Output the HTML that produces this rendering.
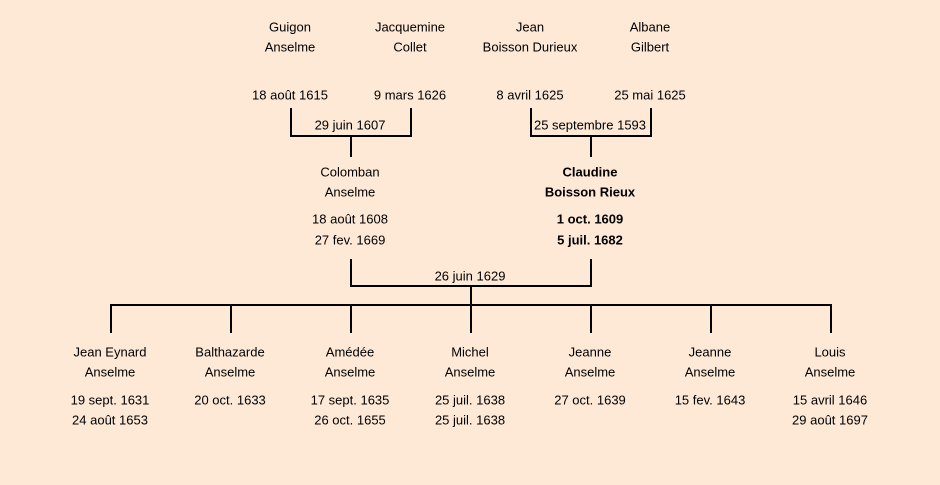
<!DOCTYPE html>
<html><head><meta charset="utf-8"><style>
body{margin:0;background:#fde9d6}
svg{display:block}
text{font-family:"Liberation Sans",sans-serif;font-size:13px;fill:#000;text-anchor:middle;dominant-baseline:middle}
.b{font-weight:bold}
</style></head><body>
<svg width="940" height="485" xmlns="http://www.w3.org/2000/svg">
<rect width="940" height="485" fill="#fde9d6"/>
<g stroke="#000" stroke-width="2" fill="none">
<polyline points="291,108 291,136 411,136 411,108"/>
<line x1="351" y1="136" x2="351" y2="157"/>
<polyline points="531,108 531,136 651,136 651,108"/>
<line x1="591" y1="136" x2="591" y2="157"/>
<polyline points="351,259 351,286 591,286 591,259"/>
<line x1="471" y1="286" x2="471" y2="305"/>
<line x1="110" y1="305" x2="832" y2="305"/>
<line x1="111" y1="305" x2="111" y2="333"/>
<line x1="231" y1="305" x2="231" y2="333"/>
<line x1="351" y1="305" x2="351" y2="333"/>
<line x1="471" y1="305" x2="471" y2="333"/>
<line x1="591" y1="305" x2="591" y2="333"/>
<line x1="711" y1="305" x2="711" y2="333"/>
<line x1="831" y1="305" x2="831" y2="333"/>
</g>
<g transform="translate(0,1)">
<text x="290" y="27">Guigon</text><text x="290" y="47">Anselme</text><text x="290" y="95">18 août 1615</text>
<text x="410" y="27">Jacquemine</text><text x="410" y="47">Collet</text><text x="410" y="95">9 mars 1626</text>
<text x="530" y="27">Jean</text><text x="530" y="47">Boisson Durieux</text><text x="530" y="95">8 avril 1625</text>
<text x="650" y="27">Albane</text><text x="650" y="47">Gilbert</text><text x="650" y="95">25 mai 1625</text>
<text x="350" y="125">29 juin 1607</text>
<text x="590" y="125">25 septembre 1593</text>
<text x="350" y="172">Colomban</text><text x="350" y="192">Anselme</text>
<text x="350" y="219">18 août 1608</text><text x="350" y="240">27 fev. 1669</text>
<text class="b" x="590" y="172">Claudine</text><text class="b" x="590" y="192">Boisson Rieux</text>
<text class="b" x="590" y="219">1 oct. 1609</text><text class="b" x="590" y="240">5 juil. 1682</text>
<text x="470" y="276">26 juin 1629</text>
<text x="110" y="352">Jean Eynard</text><text x="110" y="372">Anselme</text><text x="110" y="400">19 sept. 1631</text><text x="110" y="420">24 août 1653</text>
<text x="230" y="352">Balthazarde</text><text x="230" y="372">Anselme</text><text x="230" y="400">20 oct. 1633</text>
<text x="350" y="352">Amédée</text><text x="350" y="372">Anselme</text><text x="350" y="400">17 sept. 1635</text><text x="350" y="420">26 oct. 1655</text>
<text x="470" y="352">Michel</text><text x="470" y="372">Anselme</text><text x="470" y="400">25 juil. 1638</text><text x="470" y="420">25 juil. 1638</text>
<text x="590" y="352">Jeanne</text><text x="590" y="372">Anselme</text><text x="590" y="400">27 oct. 1639</text>
<text x="710" y="352">Jeanne</text><text x="710" y="372">Anselme</text><text x="710" y="400">15 fev. 1643</text>
<text x="830" y="352">Louis</text><text x="830" y="372">Anselme</text><text x="830" y="400">15 avril 1646</text><text x="830" y="420">29 août 1697</text>
</g>
</svg>
</body></html>
